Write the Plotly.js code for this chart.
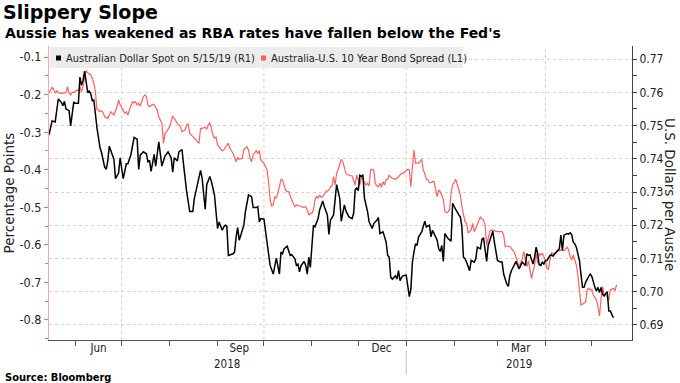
<!DOCTYPE html>
<html>
<head>
<meta charset="utf-8">
<script src="https://cdn.plot.ly/plotly-3.0.1.min.js"></script>
<style>html,body{margin:0;padding:0;background:#fff;}#chart{width:680px;height:383px;}</style>
</head>
<body>
<div id="chart"></div>
<script>
// ---------------- DATA ----------------
const audDates = [
"2018-05-15","2018-05-17","2018-05-19","2018-05-21","2018-05-23","2018-05-24","2018-05-25","2018-05-26","2018-05-28","2018-05-29","2018-05-31",
"2018-06-01","2018-06-03","2018-06-04","2018-06-05","2018-06-06","2018-06-07","2018-06-08","2018-06-09","2018-06-10","2018-06-11","2018-06-12","2018-06-13","2018-06-15","2018-06-16","2018-06-17","2018-06-18","2018-06-20","2018-06-21","2018-06-22","2018-06-23","2018-06-26","2018-06-27","2018-06-29","2018-06-30",
"2018-07-02","2018-07-04","2018-07-05","2018-07-07","2018-07-09","2018-07-11","2018-07-12","2018-07-13","2018-07-15","2018-07-17","2018-07-18","2018-07-19","2018-07-20","2018-07-22","2018-07-23","2018-07-25","2018-07-27","2018-07-29","2018-07-31",
"2018-08-02","2018-08-03","2018-08-04","2018-08-06","2018-08-07","2018-08-09","2018-08-10","2018-08-12","2018-08-14","2018-08-16","2018-08-17","2018-08-19","2018-08-21","2018-08-22","2018-08-24","2018-08-25","2018-08-27","2018-08-28","2018-08-30","2018-08-31",
"2018-09-01","2018-09-02","2018-09-04","2018-09-05","2018-09-06","2018-09-07","2018-09-08","2018-09-11","2018-09-12","2018-09-13","2018-09-14","2018-09-15","2018-09-18","2018-09-19","2018-09-21","2018-09-23","2018-09-24","2018-09-26","2018-09-27","2018-09-28","2018-09-29",
"2018-10-01","2018-10-02","2018-10-04","2018-10-05","2018-10-07","2018-10-08","2018-10-09","2018-10-11","2018-10-12","2018-10-13","2018-10-14","2018-10-16","2018-10-17","2018-10-18","2018-10-19","2018-10-21","2018-10-22","2018-10-23","2018-10-24","2018-10-25","2018-10-27","2018-10-28","2018-10-29","2018-10-30","2018-10-31",
"2018-11-02","2018-11-03","2018-11-04","2018-11-05","2018-11-06","2018-11-08","2018-11-09","2018-11-11","2018-11-12","2018-11-13","2018-11-15","2018-11-16","2018-11-17","2018-11-19","2018-11-20","2018-11-22","2018-11-23","2018-11-25","2018-11-27","2018-11-28","2018-11-29","2018-11-30",
"2018-12-01","2018-12-02","2018-12-03","2018-12-04","2018-12-05","2018-12-07","2018-12-08","2018-12-10","2018-12-11","2018-12-13","2018-12-14","2018-12-15","2018-12-17","2018-12-18","2018-12-19","2018-12-20","2018-12-21","2018-12-22","2018-12-23","2018-12-25","2018-12-26","2018-12-27","2018-12-28","2018-12-29","2018-12-30",
"2019-01-01","2019-01-02","2019-01-03","2019-01-04","2019-01-05","2019-01-06","2019-01-07","2019-01-08","2019-01-09","2019-01-11","2019-01-13","2019-01-14","2019-01-16","2019-01-17","2019-01-18","2019-01-20","2019-01-21","2019-01-22","2019-01-23","2019-01-24","2019-01-25","2019-01-26","2019-01-28","2019-01-30","2019-01-31",
"2019-02-01","2019-02-03","2019-02-04","2019-02-05","2019-02-06","2019-02-07","2019-02-08","2019-02-09","2019-02-10","2019-02-11","2019-02-12","2019-02-14","2019-02-15","2019-02-16","2019-02-18","2019-02-19","2019-02-20","2019-02-22","2019-02-23","2019-02-25","2019-02-26","2019-02-27","2019-02-28",
"2019-03-01","2019-03-03","2019-03-04","2019-03-05","2019-03-07","2019-03-08","2019-03-09","2019-03-10","2019-03-12","2019-03-13","2019-03-14","2019-03-15","2019-03-17","2019-03-19","2019-03-20","2019-03-21","2019-03-22","2019-03-23","2019-03-24","2019-03-25","2019-03-26","2019-03-27","2019-03-28","2019-03-29","2019-03-30","2019-03-31",
"2019-04-01","2019-04-02","2019-04-04","2019-04-05","2019-04-06","2019-04-07","2019-04-08","2019-04-09","2019-04-10","2019-04-11","2019-04-12","2019-04-13","2019-04-14","2019-04-15","2019-04-16","2019-04-17","2019-04-18","2019-04-19","2019-04-20","2019-04-21","2019-04-22","2019-04-23","2019-04-24","2019-04-25","2019-04-26","2019-04-27","2019-04-29","2019-04-30",
"2019-05-01","2019-05-02","2019-05-03","2019-05-04","2019-05-05","2019-05-06","2019-05-07","2019-05-08","2019-05-09","2019-05-10","2019-05-11","2019-05-12","2019-05-13","2019-05-14","2019-05-15"
];
const audValues = [
0.7472,0.7514,0.7511,0.7580,0.7570,0.7560,0.7573,0.7550,0.7545,0.7499,0.7570,
0.7567,0.7567,0.7646,0.7621,0.7636,0.7664,0.7626,0.7601,0.7604,0.7596,0.7575,0.7577,0.7494,0.7464,0.7433,0.7418,0.7375,0.7368,0.7393,0.7438,0.7398,0.7340,0.7357,0.7403,
0.7340,0.7385,0.7385,0.7413,0.7464,0.7459,0.7368,0.7411,0.7421,0.7415,0.7391,0.7395,0.7362,0.7413,0.7378,0.7451,0.7378,0.7408,0.7421,
0.7403,0.7360,0.7403,0.7393,0.7421,0.7428,0.7383,0.7302,0.7241,0.7241,0.7281,0.7322,0.7365,0.7342,0.7248,0.7322,0.7347,0.7332,0.7291,0.7241,
0.7190,0.7210,0.7185,0.7195,0.7200,0.7198,0.7109,0.7114,0.7119,0.7165,0.7193,0.7155,0.7200,0.7241,0.7291,0.7286,0.7253,0.7253,0.7256,0.7210,0.7220,
0.7218,0.7180,0.7104,0.7079,0.7053,0.7079,0.7101,0.7053,0.7119,0.7114,0.7129,0.7137,0.7119,0.7109,0.7111,0.7099,0.7079,0.7083,0.7060,0.7079,0.7091,0.7079,0.7053,0.7104,0.7073,
0.7200,0.7195,0.7205,0.7220,0.7246,0.7273,0.7256,0.7231,0.7172,0.7215,0.7231,0.7286,0.7322,0.7281,0.7212,0.7261,0.7243,0.7225,0.7220,0.7236,0.7307,0.7312,
0.7304,0.7350,0.7347,0.7352,0.7281,0.7241,0.7210,0.7190,0.7205,0.7215,0.7223,0.7175,0.7180,0.7165,0.7149,0.7109,0.7104,0.7043,0.7038,0.7048,0.7038,0.7063,0.7033,0.7043,0.7048,
0.7050,0.7018,0.6985,0.7007,0.7089,0.7119,0.7144,0.7139,0.7165,0.7180,0.7212,0.7195,0.7200,0.7165,0.7185,0.7165,0.7155,0.7129,0.7121,0.7139,0.7091,0.7175,0.7160,0.7152,0.7266,
0.7256,0.7236,0.7231,0.7225,0.7195,0.7104,0.7099,0.7089,0.7073,0.7063,0.7094,0.7089,0.7099,0.7134,0.7129,0.7158,0.7162,0.7091,0.7139,0.7165,0.7182,0.7149,0.7119,
0.7094,0.7089,0.7089,0.7053,0.7023,0.7016,0.7048,0.7063,0.7079,0.7091,0.7079,0.7068,0.7089,0.7079,0.7114,0.7109,0.7111,0.7094,0.7083,0.7104,0.7134,0.7114,0.7081,0.7079,0.7089,0.7083,
0.7094,0.7094,0.7109,0.7111,0.7107,0.7114,0.7119,0.7124,0.7129,0.7170,0.7124,0.7170,0.7172,0.7175,0.7173,0.7177,0.7172,0.7149,0.7144,0.7134,0.7114,0.7094,0.7053,0.7013,0.7013,0.7028,0.7046,0.7053,
0.7046,0.7028,0.7013,0.7002,0.7013,0.6997,0.7013,0.6992,0.6987,0.6995,0.7000,0.6942,0.6942,0.6931,0.6922
];

const spreadDates = [
"2018-05-15","2018-05-17","2018-05-18","2018-05-19","2018-05-20","2018-05-21","2018-05-23","2018-05-24","2018-05-26","2018-05-27","2018-05-28","2018-05-29","2018-05-30","2018-05-31",
"2018-06-02","2018-06-03","2018-06-04","2018-06-05","2018-06-06","2018-06-07","2018-06-08","2018-06-09","2018-06-11","2018-06-12","2018-06-13","2018-06-14","2018-06-15","2018-06-16","2018-06-17","2018-06-18","2018-06-19","2018-06-20","2018-06-21","2018-06-22","2018-06-23","2018-06-24","2018-06-26","2018-06-27","2018-06-28","2018-06-29","2018-06-30",
"2018-07-01","2018-07-03","2018-07-04","2018-07-05","2018-07-06","2018-07-08","2018-07-09","2018-07-10","2018-07-11","2018-07-12","2018-07-13","2018-07-14","2018-07-15","2018-07-16","2018-07-17","2018-07-18","2018-07-19","2018-07-21","2018-07-22","2018-07-24","2018-07-25","2018-07-27","2018-07-28","2018-07-29","2018-07-30",
"2018-08-01","2018-08-02","2018-08-03","2018-08-04","2018-08-06","2018-08-08","2018-08-09","2018-08-11","2018-08-12","2018-08-13","2018-08-14","2018-08-16","2018-08-17","2018-08-19","2018-08-20","2018-08-21","2018-08-22","2018-08-24","2018-08-25","2018-08-26","2018-08-27","2018-08-28","2018-08-29","2018-08-30","2018-08-31",
"2018-09-01","2018-09-02","2018-09-04","2018-09-05","2018-09-06","2018-09-07","2018-09-08","2018-09-09","2018-09-11","2018-09-12","2018-09-13","2018-09-14","2018-09-15","2018-09-17","2018-09-18","2018-09-20","2018-09-21","2018-09-22","2018-09-23","2018-09-24","2018-09-26","2018-09-27","2018-09-28","2018-09-29",
"2018-10-01","2018-10-03","2018-10-04","2018-10-05","2018-10-06","2018-10-07","2018-10-08","2018-10-09","2018-10-10","2018-10-11","2018-10-12","2018-10-13","2018-10-15","2018-10-16","2018-10-17","2018-10-18","2018-10-19","2018-10-21","2018-10-22","2018-10-24","2018-10-25","2018-10-26","2018-10-28","2018-10-29","2018-10-30","2018-10-31",
"2018-11-01","2018-11-02","2018-11-03","2018-11-04","2018-11-05","2018-11-06","2018-11-07","2018-11-08","2018-11-09","2018-11-10","2018-11-12","2018-11-13","2018-11-14","2018-11-15","2018-11-16","2018-11-17","2018-11-18","2018-11-19","2018-11-20","2018-11-21","2018-11-22","2018-11-23","2018-11-24","2018-11-25","2018-11-27","2018-11-28","2018-11-29","2018-11-30",
"2018-12-01","2018-12-02","2018-12-03","2018-12-04","2018-12-05","2018-12-06","2018-12-07","2018-12-08","2018-12-09","2018-12-11","2018-12-12","2018-12-13","2018-12-14","2018-12-15","2018-12-16","2018-12-17","2018-12-18","2018-12-19","2018-12-20","2018-12-21","2018-12-22","2018-12-23","2018-12-25","2018-12-26","2018-12-27","2018-12-28","2018-12-29","2018-12-30","2018-12-31",
"2019-01-01","2019-01-02","2019-01-03","2019-01-04","2019-01-05","2019-01-06","2019-01-07","2019-01-08","2019-01-09","2019-01-10","2019-01-11","2019-01-12","2019-01-13","2019-01-14","2019-01-15","2019-01-16","2019-01-17","2019-01-18","2019-01-19","2019-01-21","2019-01-22","2019-01-23","2019-01-24","2019-01-25","2019-01-26","2019-01-27","2019-01-28","2019-01-29","2019-01-30","2019-01-31",
"2019-02-02","2019-02-03","2019-02-04","2019-02-05","2019-02-06","2019-02-07","2019-02-08","2019-02-09","2019-02-10","2019-02-11","2019-02-12","2019-02-13","2019-02-14","2019-02-15","2019-02-16","2019-02-18","2019-02-19","2019-02-20","2019-02-21","2019-02-22","2019-02-23","2019-02-24","2019-02-25","2019-02-26","2019-02-27",
"2019-03-01","2019-03-02","2019-03-04","2019-03-05","2019-03-06","2019-03-07","2019-03-09","2019-03-10","2019-03-12","2019-03-13","2019-03-14","2019-03-15","2019-03-17","2019-03-18","2019-03-19","2019-03-20","2019-03-21","2019-03-22","2019-03-23","2019-03-24","2019-03-25","2019-03-26","2019-03-27","2019-03-28","2019-03-29","2019-03-30",
"2019-04-01","2019-04-02","2019-04-03","2019-04-04","2019-04-05","2019-04-06","2019-04-07","2019-04-08","2019-04-09","2019-04-10","2019-04-11","2019-04-13","2019-04-14","2019-04-15","2019-04-16","2019-04-17","2019-04-18","2019-04-19","2019-04-20","2019-04-21","2019-04-22","2019-04-23","2019-04-24","2019-04-26","2019-04-27","2019-04-28","2019-04-29","2019-04-30",
"2019-05-01","2019-05-02","2019-05-04","2019-05-05","2019-05-06","2019-05-07","2019-05-08","2019-05-09","2019-05-10","2019-05-11","2019-05-12","2019-05-13","2019-05-14","2019-05-15","2019-05-16","2019-05-17"
];
const spreadValues = [
-0.1966,-0.1807,-0.1860,-0.1966,-0.1897,-0.1950,-0.1966,-0.1966,-0.1950,-0.1791,-0.1966,-0.2011,-0.1932,-0.1950,
-0.1878,-0.1897,-0.1791,-0.1924,-0.1791,-0.1567,-0.1365,-0.1418,-0.1479,-0.1567,-0.1700,-0.1924,-0.2392,-0.2411,-0.2456,-0.2429,-0.2483,-0.2589,-0.2605,-0.2632,-0.2544,-0.2456,-0.2544,-0.2456,-0.2323,-0.2145,-0.2278,
-0.2339,-0.2499,-0.2456,-0.2544,-0.2411,-0.2190,-0.2216,-0.2190,-0.2278,-0.2232,-0.2304,-0.2190,-0.2057,-0.2011,-0.2057,-0.2278,-0.2323,-0.2259,-0.2278,-0.2411,-0.2589,-0.2765,-0.3297,-0.3031,-0.2988,
-0.2855,-0.2677,-0.2570,-0.2632,-0.2765,-0.2855,-0.2988,-0.2943,-0.2810,-0.2783,-0.3031,-0.3121,-0.3164,-0.3254,-0.3297,-0.2898,-0.2898,-0.2871,-0.2924,-0.2810,-0.2749,-0.2898,-0.3076,-0.3164,-0.3121,
-0.3342,-0.3388,-0.3494,-0.3475,-0.3388,-0.3342,-0.3297,-0.3430,-0.3563,-0.3654,-0.3787,-0.3670,-0.3723,-0.3696,-0.3457,-0.3388,-0.3475,-0.3696,-0.3787,-0.3608,-0.3494,-0.3563,-0.3494,-0.3742,
-0.3829,-0.4008,-0.4319,-0.4806,-0.4966,-0.4939,-0.4718,-0.4761,-0.4628,-0.4452,-0.4255,-0.4274,-0.4540,-0.4585,-0.4585,-0.4673,-0.4806,-0.4985,-0.4939,-0.4966,-0.4966,-0.5001,-0.4985,-0.5072,-0.5206,-0.5160,
-0.5160,-0.5072,-0.4806,-0.4700,-0.4761,-0.4673,-0.4734,-0.4718,-0.4628,-0.4585,-0.4540,-0.4452,-0.4434,-0.4186,-0.4407,-0.4096,-0.3989,-0.3829,-0.3723,-0.3787,-0.3920,-0.4096,-0.4141,-0.4141,-0.4167,-0.4274,-0.4407,-0.4141,
-0.4274,-0.4407,-0.4186,-0.4255,-0.4362,-0.4407,-0.4362,-0.4434,-0.3989,-0.4008,-0.4362,-0.4434,-0.4452,-0.4362,-0.4468,-0.4319,-0.4407,-0.4274,-0.4255,-0.4141,-0.4202,-0.4229,-0.4255,-0.4229,-0.4186,-0.4141,-0.4096,-0.4096,-0.4053,
-0.4008,-0.3989,-0.4008,-0.4452,-0.3920,-0.3475,-0.3829,-0.3813,-0.3829,-0.3787,-0.3723,-0.4008,-0.4096,-0.4255,-0.4274,-0.4340,-0.4346,-0.4319,-0.4319,-0.4718,-0.4540,-0.4585,-0.4673,-0.4788,-0.5118,-0.5144,-0.5118,-0.5072,-0.4628,-0.4407,
-0.4255,-0.4407,-0.4585,-0.4673,-0.4985,-0.5160,-0.5384,-0.5427,-0.5677,-0.5650,-0.5605,-0.5427,-0.5650,-0.5560,-0.5472,-0.5251,-0.5320,-0.5339,-0.5472,-0.6004,-0.5826,-0.5650,-0.5605,-0.5623,-0.5623,
-0.5650,-0.5650,-0.5650,-0.5738,-0.6049,-0.6031,-0.6049,-0.6092,-0.6209,-0.6332,-0.6449,-0.6582,-0.6385,-0.6182,-0.6358,-0.6582,-0.6422,-0.6624,-0.6890,-0.6715,-0.6536,-0.6225,-0.6491,-0.6225,-0.6270,-0.6225,
-0.6403,-0.6624,-0.6651,-0.6403,-0.6209,-0.6225,-0.6244,-0.6209,-0.6137,-0.6164,-0.6137,-0.6156,-0.6119,-0.6065,-0.6137,-0.6315,-0.6403,-0.6270,-0.6403,-0.6536,-0.6802,-0.7157,-0.7601,-0.7556,-0.7513,-0.7183,-0.7157,-0.7202,
-0.7183,-0.7335,-0.7468,-0.7646,-0.7894,-0.7423,-0.7114,-0.7335,-0.7308,-0.7396,-0.7468,-0.7202,-0.7183,-0.7157,-0.7220,-0.7069
];

const audName = "Australian Dollar Spot on 5/15/19 (R1)";
const spreadName = "Australia-U.S. 10 Year Bond Spread (L1)";

const xRange = ["2018-05-15", "2019-05-27"];
const monthLabelDates = ["2018-06-16", "2018-09-15", "2018-12-16", "2019-03-16"];
const monthLabels = ["Jun", "Sep", "Dec", "Mar"];
const quarterGridDates = ["2018-07-01", "2018-10-01", "2019-01-01", "2019-04-01"];
const yearBoundary = "2019-01-01";
const yearLabels = ["2018", "2019"];
const leftTicks = [-0.8, -0.7, -0.6, -0.5, -0.4, -0.3, -0.2, -0.1];
const leftRange = [-0.8533, -0.0707];
const rightRange = [0.68545, 0.77395];

// ---------------- LAYOUT HELPERS ----------------
const W = 680, H = 383, ML = 49, MR = 48, MT = 46, MB = 43;
const PW = W - ML - MR, PH = H - MT - MB;
const px = x => (x - ML) / PW;          // page px -> paper x
const py = y => (H - MB - y) / PH;      // page px -> paper y
const COND = "DejaVu Sans Condensed, DejaVu Sans, sans-serif";
const REG = "DejaVu Sans, sans-serif";
const RED = "#ff5f5f";

function midDate(a, b) {
  const ta = new Date(a + "T00:00:00Z").getTime(), tb = new Date(b + "T00:00:00Z").getTime();
  return new Date((ta + tb) / 2).toISOString().slice(0, 10);
}

const traces = [
  { type: "scatter", mode: "lines", name: spreadName, x: spreadDates, y: spreadValues,
    yaxis: "y", line: { color: RED, width: 1.2 }, hoverinfo: "skip" },
  { type: "scatter", mode: "lines", name: audName, x: audDates, y: audValues,
    yaxis: "y2", line: { color: "#000", width: 1.5 }, hoverinfo: "skip" }
];

const shapes = quarterGridDates.map(d => ({
  type: "line", xref: "x", yref: "paper", x0: d, x1: d, y0: 0, y1: 1,
  line: { color: "#cfcfcf", width: 1, dash: "dot" }, layer: "below"
}));
shapes.push({ type: "line", xref: "x", yref: "paper", x0: yearBoundary, x1: yearBoundary,
  y0: py(351), y1: py(374), line: { color: "#bdbdbd", width: 1 } });
// legend box and swatches
shapes.push({ type: "rect", xref: "paper", yref: "paper", x0: px(50), x1: px(463), y0: py(68), y1: py(47),
  fillcolor: "#ececec", line: { width: 0 }, layer: "above" });
shapes.push({ type: "rect", xref: "paper", yref: "paper", x0: px(56), x1: px(61), y0: py(60.5), y1: py(55.5),
  fillcolor: "#000", line: { width: 0 }, layer: "above" });
shapes.push({ type: "rect", xref: "paper", yref: "paper", x0: px(261), x1: px(266), y0: py(60.5), y1: py(55.5),
  fillcolor: RED, line: { width: 0 }, layer: "above" });

const annotations = [
  { text: "<b>Aussie has weakened as RBA rates have fallen below the Fed's</b>", xref: "paper", yref: "paper",
    x: px(3), y: py(33.5), xanchor: "left", yanchor: "middle", showarrow: false,
    font: { family: REG, size: 14, color: "#000" } },
  { text: "<b>Source: Bloomberg</b>", xref: "paper", yref: "paper",
    x: px(3), y: py(377), xanchor: "left", yanchor: "middle", showarrow: false,
    font: { family: COND, size: 11, color: "#000" } },
  { text: audName, xref: "paper", yref: "paper", x: px(64), y: py(58), xanchor: "left", yanchor: "middle",
    showarrow: false, font: { family: COND, size: 11, color: "#222" } },
  { text: spreadName, xref: "paper", yref: "paper", x: px(269), y: py(58), xanchor: "left", yanchor: "middle",
    showarrow: false, font: { family: COND, size: 11, color: "#222" } },
  { text: "U.S. Dollars per Aussie", xref: "paper", yref: "paper", x: px(670), y: py(194),
    xanchor: "center", yanchor: "middle", textangle: 90, showarrow: false,
    font: { family: REG, size: 13.5, color: "#222" } },
  { text: yearLabels[0], xref: "x", yref: "paper", x: midDate(xRange[0], yearBoundary), y: py(364),
    xanchor: "center", yanchor: "middle", showarrow: false, font: { family: COND, size: 11.5, color: "#222" } },
  { text: yearLabels[1], xref: "x", yref: "paper", x: midDate(yearBoundary, xRange[1]), y: py(364),
    xanchor: "center", yanchor: "middle", showarrow: false, font: { family: COND, size: 11.5, color: "#222" } }
];

const layout = {
  width: W, height: H,
  margin: { l: ML, r: MR, t: MT, b: MB, pad: 0 },
  paper_bgcolor: "#fff", plot_bgcolor: "#fff",
  showlegend: false,
  font: { family: REG, size: 12, color: "#222" },
  title: { text: "<b>Slippery Slope</b>", xref: "container", yref: "container",
    x: 3 / W, xanchor: "left", y: 1 - 6 / H, yanchor: "top",
    font: { family: REG, size: 19, color: "#000" }, pad: { t: 0, b: 0, l: 0, r: 0 } },
  xaxis: {
    type: "date", range: xRange, fixedrange: true,
    tickmode: "array", tickvals: monthLabelDates, ticktext: monthLabels,
    ticks: "", showgrid: false, zeroline: false,
    showline: true, linecolor: "#555", linewidth: 1,
    ticklabelstandoff: -3,
    tickfont: { family: COND, size: 11.5, color: "#222" },
    minor: { tickmode: "linear", tick0: "2018-06-01", dtick: "M1", ticks: "outside", ticklen: 5,
      tickcolor: "#555", tickwidth: 1, showgrid: false }
  },
  yaxis: {
    range: leftRange, fixedrange: true,
    tickmode: "array", tickvals: leftTicks, ticktext: leftTicks.map(v => v.toFixed(1)),
    showgrid: false, zeroline: false,
    showline: true, linecolor: "#f7a8a8", linewidth: 1,
    ticks: "outside", ticklen: 4, tickcolor: "#f46a6a", tickwidth: 1,
    minor: { tickmode: "linear", tick0: -0.85, dtick: 0.05, ticks: "outside", ticklen: 3, tickcolor: "#f46a6a" },
    tickfont: { family: COND, size: 12.5, color: "#222" },
    title: { text: "Percentage Points", font: { family: REG, size: 13.5, color: "#222" }, standoff: 1 }
  },
  yaxis2: {
    overlaying: "y", side: "right", range: rightRange, fixedrange: true,
    tickmode: "linear", tick0: 0.69, dtick: 0.01, tickformat: ".2f",
    showgrid: true, gridcolor: "#d2d2d2", griddash: "dot", gridwidth: 1, zeroline: false,
    showline: true, linecolor: "#444", linewidth: 1,
    ticks: "outside", ticklen: 4, tickcolor: "#444", tickwidth: 1,
    minor: { tickmode: "linear", tick0: 0.685, dtick: 0.005, ticks: "outside", ticklen: 4, tickcolor: "#444", showgrid: false },
    tickfont: { family: COND, size: 12, color: "#222" }
  },
  shapes: shapes,
  annotations: annotations
};

Plotly.newPlot("chart", traces, layout, { displayModeBar: false, staticPlot: true });
</script>
</body>
</html>
